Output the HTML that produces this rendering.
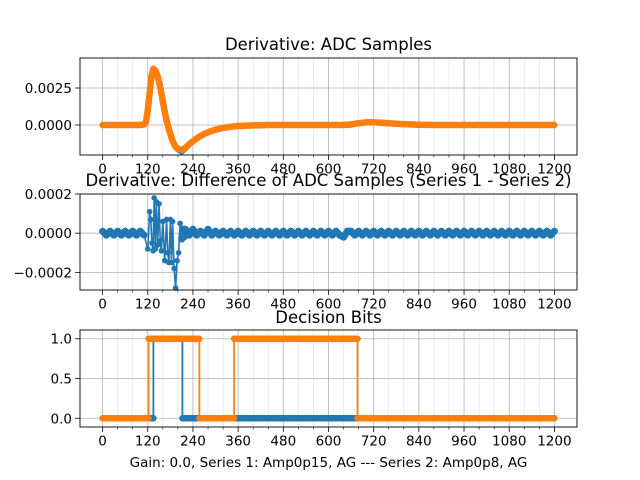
<!DOCTYPE html>
<html><head><meta charset="utf-8"><style>
body{margin:0;background:#fff;}
svg{display:block;font-family:"DejaVu Sans","Liberation Sans",sans-serif;}
</style></head><body>
<svg id="fig" width="640" height="480" viewBox="0 0 640 480" xmlns="http://www.w3.org/2000/svg">
<rect width="640" height="480" fill="#fff"/>
</svg>
<script>
// ---- data ----
const xTicks = [0,120,240,360,480,600,720,840,960,1080,1200];
// derivative of ADC samples (x1e-4)
const derivX = [0,50,100,110,115,120,125,130,135,140,145,150,155,160,165,170,175,180,185,190,195,200,205,210,215,220,230,240,250,260,270,280,290,300,320,340,360,400,440,500,600,640,660,680,700,720,740,760,780,800,820,840,880,1000,1200];
const derivSeries2 = [0,0,0,0.3,2,10,22,33,38,37,34,29,23,16,9,3,-2,-6,-10,-13,-15,-16,-16.5,-17,-16.3,-15.5,-13,-11,-9,-7.5,-6,-5,-4,-3.2,-2,-1.2,-0.7,-0.3,0,0,0,0,0.3,1.2,1.8,1.8,1.5,1.2,0.9,0.6,0.4,0.2,0,0,0];
const derivSeries1 = [0,0,0,0.3,2,10,22,33,38,37,34,29,23,16,9,3,-2,-6,-10,-13,-15,-16.5,-17.3,-18,-17,-15.8,-13,-11,-9,-7.5,-6,-5,-4,-3.2,-2,-1.2,-0.7,-0.3,0,0,0,0,0.3,1.2,1.8,1.8,1.5,1.2,0.9,0.6,0.4,0.2,0,0,0];
// difference series (x1e-5)
const diffX = [0,10,20,30,40,50,60,70,80,90,100,110,120,
125,128,131,134,137,140,143,146,150,153,156,160,165,170,173,176,180,183,186,190,194,198,202,206,210,213,216,
220,230,240,250,260,270,280,290,300,310,
320,330,340,350,360,370,380,390,400,410,
420,430,440,450,460,470,480,490,500,510,
520,530,540,550,560,570,580,590,600,610,
620,630,640,650,660,670,680,690,700,710,
720,730,740,750,760,770,780,790,800,810,
820,830,840,850,860,870,880,890,900,910,
920,930,940,950,960,970,980,990,1000,1010,
1020,1030,1040,1050,1060,1070,1080,1090,1100,1110,
1120,1130,1140,1150,1160,1170,1180,1190,1200];
const diffY = [1,-1,1,-1,1,-1,1,-1,1,-1,1,-1,-8,
11,7,-5,-9,18,-8,16,-6,15,-4,-9,6,-14,7,-10,-15,7,-15,6,-18,-28,-14,-10,5,-3,2,-2,
2,-1,2,-1,1,-1,2,-1,1,-1,
1,-1,1,-1,1,-1,1,-1,1,-1,
1,-1,1,-1,1,-1,1,-1,1,-1,
1,-1,1,-1,1,-1,1,-1,1,-1,
1,-1,-2,1,1,-1,1,-1,1,-1,
1,-1,1,-1,1,-1,1,-1,1,-1,
1,-1,1,-1,1,-1,1,-1,1,-1,
1,-1,1,-1,1,-1,1,-1,1,-1,
1,-1,1,-1,1,-1,1,-1,1,-1,
1,-1,1,-1,1,-1,1,-1,1];
// decision bits: change points and levels
const bits1Edges = [0,135,212,1200];
const bits1Levels = [0,1,0];
const bits2Edges = [0,122,257,349,677,1200];
const bits2Levels = [0,1,0,1,0];

const NS="http://www.w3.org/2000/svg";
const svg=document.getElementById('fig');
function mk(tag,attrs,parent,name){const e=document.createElementNS(NS,tag);for(const k in attrs)e.setAttribute(k,attrs[k]);


(parent||svg).appendChild(e);return e;}
const L=80,R=577;
const xs=v=>L+(v+60)/1320*(R-L);
function axes(top,bot,ymin,ymax,yticks,ylabels,title,titleY,id){
  const g=mk('g',{},svg,id);
  const ys=v=>bot-(v-ymin)/(ymax-ymin)*(bot-top);
  for(let v=0;v<=1200;v+=40){ if(v%120===0) continue;
    mk('line',{x1:xs(v),x2:xs(v),y1:top,y2:bot,stroke:'#dedede','stroke-width':0.6},g,'minor-gridline');
    mk('line',{x1:xs(v),x2:xs(v),y1:bot,y2:bot+2.5,stroke:'#000','stroke-width':0.6},g,'minor-tick');}
  xTicks.forEach(v=>{
    mk('line',{x1:xs(v),x2:xs(v),y1:top,y2:bot,stroke:'#b0b0b0','stroke-width':0.8},g,'x-gridline');
    mk('line',{x1:xs(v),x2:xs(v),y1:bot,y2:bot+4.9,stroke:'#000','stroke-width':0.8},g,'x-tick');
    const t=mk('text',{x:xs(v),y:bot+18.5,'text-anchor':'middle','font-size':13.5},g,'x-tick-label');t.textContent=v;});
  yticks.forEach((v,i)=>{
    mk('line',{x1:L,x2:R,y1:ys(v),y2:ys(v),stroke:'#b0b0b0','stroke-width':0.8},g,'y-gridline');
    mk('line',{x1:L-4.9,x2:L,y1:ys(v),y2:ys(v),stroke:'#000','stroke-width':0.8},g,'y-tick');
    const t=mk('text',{x:L-8,y:ys(v)+5,'text-anchor':'end','font-size':13.5},g,'y-tick-label');t.textContent=ylabels[i];});
  const tt=mk('text',{x:(L+R)/2,y:titleY,'text-anchor':'middle','font-size':16.5},g,'axes-title');tt.textContent=title;
  return {g,ys,frame:()=>mk('rect',{x:L,y:top,width:R-L,height:bot-top,fill:'none',stroke:'#000','stroke-width':0.9},g,'axes-frame')};
}
function pathD(px,py){let d='';px.forEach((x,i)=>{d+=(i?'L':'M')+x.toFixed(1)+','+py[i].toFixed(1);});return d;}
function thick(g,px,py,color,name,w){
  mk('path',{d:pathD(px,py),fill:'none',stroke:color,'stroke-width':w,'stroke-linecap':'round','stroke-linejoin':'round'},g,name);
}
// axes 1
const a1=axes(58,155,-0.00203,0.00453,[0,0.0025],['0.0000','0.0025'],'Derivative: ADC Samples',50,'derivative-axes');
thick(a1.g,derivX.map(xs),derivSeries1.map(v=>a1.ys(v*1e-4)),'#1f77b4','series1-derivative',6);
thick(a1.g,derivX.map(xs),derivSeries2.map(v=>a1.ys(v*1e-4)),'#ff7f0e','series2-derivative',6.5);
a1.frame();
// axes 2
const a2=axes(194,290,-0.00029,0.0002,[-0.0002,0,0.0002],['\u22120.0002','0.0000','0.0002'],'Derivative: Difference of ADC Samples (Series 1 - Series 2)',186,'difference-axes');
{
  const n=Math.min(diffX.length,diffY.length);
  const px=diffX.slice(0,n).map(xs), py=diffY.slice(0,n).map(v=>a2.ys(v*1e-5));
  mk('path',{d:pathD(px,py),fill:'none',stroke:'#1f77b4','stroke-width':1.6},a2.g,'difference-line');
  for(let i=0;i<n-1;i++){
    if(Math.abs(diffY[i])<=3&&Math.abs(diffY[i+1])<=3){
      mk('line',{x1:px[i],y1:py[i],x2:px[i+1],y2:py[i+1],stroke:'#1f77b4','stroke-width':7,'stroke-linecap':'round'},a2.g,'difference-noise');
    }
  }
  const mg=mk('g',{fill:'#1f77b4'},a2.g,'difference-markers');
  px.forEach((x,i)=>mk('circle',{cx:x,cy:py[i],r:2.8},mg,'difference-point'));
}
a2.frame();
// axes 3
const a3=axes(330,427,-0.11,1.11,[0,0.5,1],['0.0','0.5','1.0'],'Decision Bits',323,'decision-axes');
function bits(edges,levels,color,name){
  const px=[],py=[];
  for(let i=0;i<levels.length;i++){
    px.push(xs(edges[i]),xs(edges[i+1]));py.push(a3.ys(levels[i]),a3.ys(levels[i]));
  }
  mk('path',{d:pathD(px,py),fill:'none',stroke:color,'stroke-width':1.8},a3.g,name+'-line');
  for(let i=0;i<levels.length;i++){
    mk('line',{x1:xs(edges[i]),x2:xs(edges[i+1]),y1:a3.ys(levels[i]),y2:a3.ys(levels[i]),stroke:color,'stroke-width':6.5,'stroke-linecap':'round'},a3.g,name+'-segment');
  }
}
bits(bits1Edges,bits1Levels,'#1f77b4','series1-bits');
bits(bits2Edges,bits2Levels,'#ff7f0e','series2-bits');
a3.frame();
const xl=mk('text',{x:(L+R)/2,y:467,'text-anchor':'middle','font-size':13.5},svg,'x-axis-label');
xl.textContent='Gain: 0.0, Series 1: Amp0p15, AG --- Series 2: Amp0p8, AG';
</script>
</body></html>
